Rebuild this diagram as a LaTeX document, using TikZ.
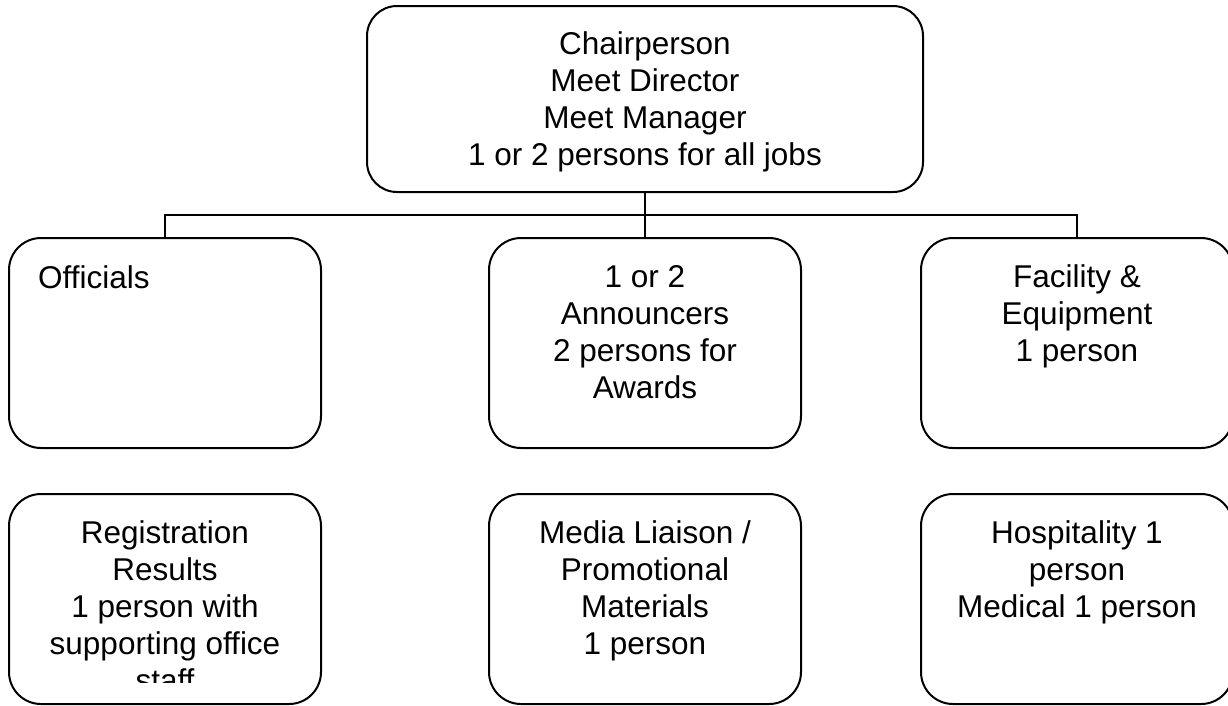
\documentclass[tikz,border=0pt]{standalone}
\usepackage{fontspec}
\setmainfont{Liberation Sans}
\begin{document}
\begin{tikzpicture}[x=1pt,y=-1pt,
  box/.style={draw=black, line width=2pt, rounded corners=32pt, inner sep=0pt,
    minimum width=312pt, minimum height=210pt, fill=white},
  topbox/.style={box, minimum width=556pt, minimum height=186pt, rounded corners=30pt},
  txt/.style={font=\fontsize{31.5pt}{37pt}\selectfont, align=center, anchor=base, inner sep=0pt},
  conn/.style={draw=black, line width=2pt}]
\clip (0,0) rectangle (1228,705);
\fill[white] (0,0) rectangle (1228,705);
% boxes
\node[topbox] (chair) at (645,99) {};
\node[box] (off) at (165,343) {};
\node[box] (ann) at (645,343) {};
\node[box] (fac) at (1077,343) {};
\node[box] (reg) at (165,599) {};
\node[box] (med) at (645,599) {};
\node[box] (hos) at (1077,599) {};
% connectors
\coordinate (bus) at (645,215);
\draw[conn] (chair.south) -- (ann.north);
\draw[conn] (off.north) |- (bus) -| (fac.north);
% texts (anchor base = baseline of the last line)
\node[txt] (tchair) at (645,165) {Chairperson\\Meet Director\\Meet Manager\\1 or 2 persons for all jobs};
\node[txt, anchor=base west] (toff) at (38,288) {Officials};
\node[txt] (tann) at (645,398) {1 or 2\\Announcers\\2 persons for\\Awards};
\node[txt] (tfac) at (1077,361) {Facility \&\\Equipment\\1 person};
\begin{scope}
\clip (0,494) rectangle (330,682);
\node[txt] (treg) at (165,691) {Registration\\Results\\1 person with\\supporting office\\staff};
\end{scope}
\node[txt] (tmed) at (645,654) {Media Liaison /\\Promotional\\Materials\\1 person};
\node[txt] (thos) at (1077,617) {Hospitality 1\\person\\Medical 1 person};
\end{tikzpicture}
\end{document}
